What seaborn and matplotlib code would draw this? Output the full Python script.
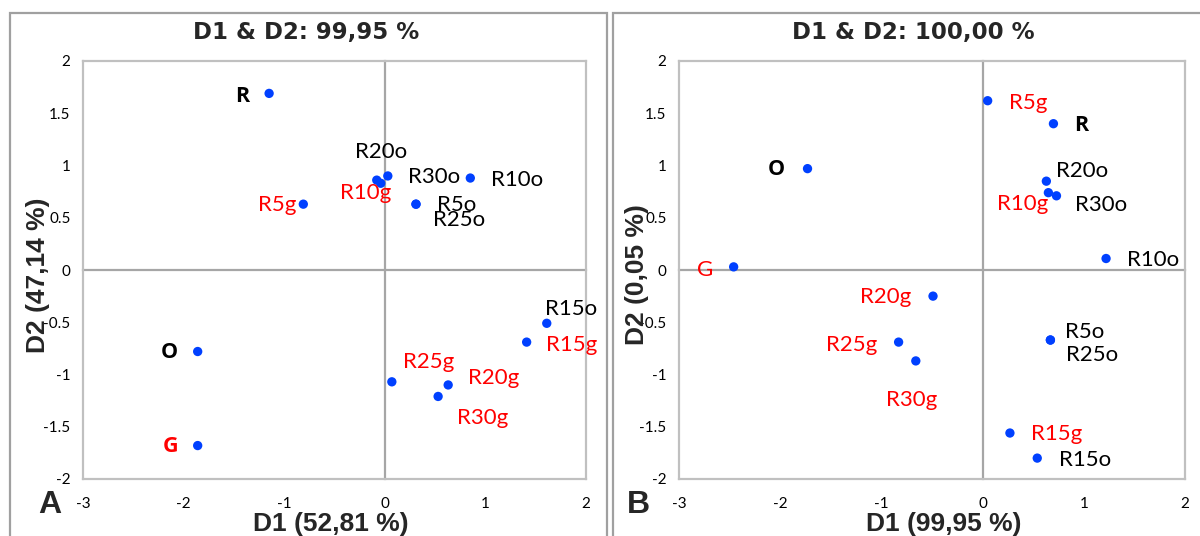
import numpy as np
import matplotlib.pyplot as plt
import seaborn as sns
from matplotlib.patches import Rectangle

# panel A data
a_names = ["R", "R20o", "R30o", "R10g", "R10o", "R5g", "R5o", "R25o",
           "R15o", "R15g", "O", "G", "R25g", "R20g", "R30g"]
a_d1 = [-1.15, -0.04, 0.03, -0.08, 0.85, -0.81, 0.31, 0.31,
        1.61, 1.41, -1.86, -1.86, 0.07, 0.63, 0.53]
a_d2 = [1.69, 0.83, 0.90, 0.86, 0.88, 0.63, 0.63, 0.63,
        -0.51, -0.69, -0.78, -1.68, -1.07, -1.10, -1.21]
a_bold = ["R", "O", "G"]

# panel B data
b_names = ["R5g", "R", "O", "R20o", "R10g", "R30o", "R10o", "G",
           "R20g", "R25g", "R30g", "R5o", "R25o", "R15g", "R15o"]
b_d1 = [0.05, 0.70, -1.73, 0.63, 0.65, 0.73, 1.22, -2.46,
        -0.49, -0.83, -0.66, 0.67, 0.67, 0.27, 0.54]
b_d2 = [1.62, 1.40, 0.97, 0.85, 0.74, 0.71, 0.11, 0.03,
        -0.25, -0.69, -0.87, -0.67, -0.67, -1.56, -1.80]
b_bold = ["R", "O"]

x_ticks = [-3, -2, -1, 0, 1, 2]
y_ticks = [-2, -1.5, -1, -0.5, 0, 0.5, 1, 1.5, 2]
y_tick_labels = ["-2", "-1.5", "-1", "-0.5", "0", "0.5", "1", "1.5", "2"]

# label offsets in pixels (dx, dy downwards)
a_offsets = [(-27, 3), (0, -31), (46, 1), (-11, 13), (47, 2), (-26, 1), (41, 1), (43, 16),
             (24, -14), (45, 3), (-28, 1), (-27, 1), (37, -20), (45, -7), (45, 22)]
b_offsets = [(41, 2), (28, 2), (-31, 1), (36, -10), (-26, 11), (45, 9), (47, 1), (-29, 3),
             (-47, 1), (-47, 3), (-4, 39), (34, -8), (42, 15), (47, 1), (48, 2)]

sns.set_style("white")
plt.rcParams["font.family"] = ["Lato", "DejaVu Sans"]

W, H = 1200, 536
fig = plt.figure(figsize=(W / 100, H / 100), dpi=100)
fig.patch.set_facecolor("white")


def px(x, y):
    return x / W, 1 - y / H


def draw_panel(left, right, names, d1, d2, bold, offsets, title, title_x,
               ylab, ylab_x, xlab, xlab_x, letter, letter_x, panel_x0, panel_x1):
    top, bottom = 61, 479
    rect = [left / W, 1 - bottom / H, (right - left) / W, (bottom - top) / H]

    # frame around each panel
    fig.patches.append(Rectangle((panel_x0 / W, -0.05), (panel_x1 - panel_x0) / W,
                                 1.05 - 13 / H, transform=fig.transFigure,
                                 fill=False, edgecolor="#A0A0A0", lw=1.6))

    # zero lines with crossing ticks
    ax0 = fig.add_axes(rect, zorder=0)
    ax0.set_xlim(-3, 2)
    ax0.set_ylim(-2, 2)
    for s in ["top", "right"]:
        ax0.spines[s].set_visible(False)
    for s in ["left", "bottom"]:
        ax0.spines[s].set_position("zero")
        ax0.spines[s].set_color("#A6A6A6")
        ax0.spines[s].set_linewidth(1.6)
    ax0.set_xticks(x_ticks)
    ax0.set_yticks(y_ticks)
    ax0.tick_params(direction="inout", length=8, width=1.2, color="#A6A6A6",
                    labelleft=False, labelbottom=False)
    ax0.patch.set_visible(False)

    ax = fig.add_axes(rect, zorder=1)
    ax.patch.set_visible(False)
    sns.scatterplot(x=d1, y=d2, ax=ax, color="#0040FF", s=45, edgecolor="none",
                    legend=False)
    ax.set_xlim(-3, 2)
    ax.set_ylim(-2, 2)
    ax.set_xticks(x_ticks)
    ax.set_xticklabels([str(t) for t in x_ticks])
    ax.set_yticks(y_ticks)
    ax.set_yticklabels(y_tick_labels)
    ax.tick_params(length=0, labelsize=11, labelcolor="black")
    ax.tick_params(axis="y", pad=9)
    ax.tick_params(axis="x", pad=13)
    for s in ax.spines.values():
        s.set_visible(True)
        s.set_color("#C0C0C0")
        s.set_linewidth(1.6)
    ax.set_xlabel("")
    ax.set_ylabel("")

    for name, x, y, (dx, dy) in zip(names, d1, d2, offsets):
        color = "#FF0000" if name.endswith("g") or name == "G" else "black"
        if name in bold:
            ax.annotate(name, (x, y), xytext=(dx, -dy), textcoords="offset pixels",
                        ha="center", va="center", fontsize=15.5, color=color,
                        fontweight="bold", family="Open Sans")
        else:
            ax.annotate(name, (x, y), xytext=(dx, -dy), textcoords="offset pixels",
                        ha="center", va="center", fontsize=16, color=color)

    fig.text(*px(title_x, 32), title, ha="center", va="center", fontsize=16.5,
             fontweight="bold", family="DejaVu Sans")
    fig.text(*px(ylab_x, 275), ylab, ha="center", va="center", rotation=90,
             fontsize=19, fontweight="bold", family="Liberation Sans")
    fig.text(*px(xlab_x, 524), xlab, ha="center", va="center",
             fontsize=19, fontweight="bold", family="Liberation Sans")
    fig.text(*px(letter_x, 505), letter, ha="center", va="center",
             fontsize=23, fontweight="bold", family="Liberation Sans")


draw_panel(83, 586, a_names, a_d1, a_d2, a_bold, a_offsets,
           "D1 & D2: 99,95 %", 306, "D2 (47,14 %)", 38, "D1 (52,81 %)", 331,
           "A", 50, 10, 607)
draw_panel(679, 1185, b_names, b_d1, b_d2, b_bold, b_offsets,
           "D1 & D2: 100,00 %", 913, "D2 (0,05 %)", 637, "D1 (99,95 %)", 944,
           "B", 638, 613, 1260)

fig.savefig("out.png", dpi=100)
